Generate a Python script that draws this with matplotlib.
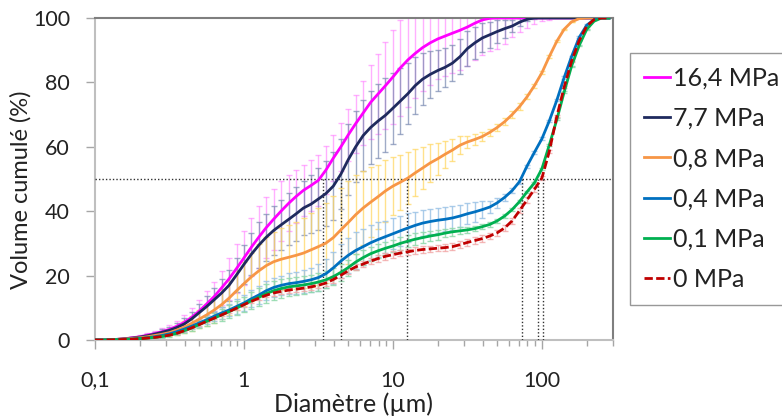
import matplotlib
matplotlib.use("Agg")
import matplotlib.pyplot as plt
import numpy as np
from matplotlib.ticker import FixedLocator, FixedFormatter, LogLocator, NullFormatter

plt.rcParams['font.family'] = ['Lato', 'DejaVu Sans']

# ---------------- data ----------------
diam = [0.1, 0.112, 0.126, 0.141, 0.158, 0.178, 0.2, 0.224, 0.251, 0.282,
        0.316, 0.355, 0.398, 0.447, 0.501, 0.562, 0.631, 0.708, 0.794, 0.891,
        1, 1.12, 1.26, 1.41, 1.58, 1.78, 2.0, 2.24, 2.51, 2.82,
        3.16, 3.55, 3.98, 4.47, 5.01, 5.62, 6.31, 7.08, 7.94, 8.91,
        10, 11.2, 12.6, 14.1, 15.8, 17.8, 20, 22.4, 25.1, 28.2,
        31.6, 35.5, 39.8, 44.7, 50.1, 56.2, 63.1, 70.8, 79.4, 89.1,
        100, 112, 126, 141, 158, 178, 200, 224, 251, 282]

labels = ['16,4 MPa', '7,7 MPa', '0,8 MPa', '0,4 MPa', '0,1 MPa', '0 MPa']

v164 = [0, 0, 0.1, 0.2, 0.4, 0.7, 1.0, 1.5, 2.0, 2.6,
        3.3, 4.3, 5.5, 7.1, 9.0, 11.2, 13.5, 16.2, 19.0, 22.2,
        25.5, 28.8, 32.0, 34.9, 37.5, 40.1, 42.5, 44.6, 46.5, 48.0,
        49.6, 52.8, 56.5, 60.0, 63.7, 67.2, 70.5, 73.8, 76.4, 79.0,
        81.7, 84.5, 87.0, 89.0, 90.8, 92.3, 93.5, 94.4, 95.3, 96.2,
        97.2, 98.4, 99.4, 99.9, 100, 100, 100, 100, 100, 100,
        100, 100, 100, 100, 100, 100, 100, 100, 100, 100]
e164 = [0, 0, 0, 0.1, 0.2, 0.3, 0.4, 0.6, 0.8, 1.0,
        1.3, 1.7, 2.2, 2.8, 3.4, 4.0, 4.6, 5.3, 6.5, 7.5,
        8.5, 9.0, 9.5, 9.5, 9.5, 9.2, 8.8, 8.3, 8.0, 8.0,
        8.0, 7.5, 7.2, 7.5, 8.0, 9.0, 10.0, 11.5, 12.5, 13.5,
        14.5, 15.0, 14.5, 14.0, 13.5, 13.0, 12.5, 12.5, 12.5, 12.3,
        12.0, 11.5, 11.0, 10.3, 9.5, 8.0, 6.0, 4.5, 3.0, 2.0,
        1.0, 0.5, 0, 0, 0, 0, 0, 0, 0, 0]

v77 = [0, 0, 0.1, 0.2, 0.4, 0.6, 0.9, 1.3, 1.8, 2.4,
       3.0, 3.9, 5.0, 6.6, 8.5, 10.4, 12.5, 14.6, 17.0, 20.2,
       23.5, 26.6, 29.5, 31.9, 34.0, 35.8, 37.5, 39.2, 41.0, 42.2,
       43.8, 45.5, 47.8, 51.5, 56.0, 60.0, 63.5, 66.0, 68.0, 69.8,
       72.0, 74.2, 76.5, 79.0, 81.0, 82.5, 83.7, 84.7, 86.0, 88.0,
       90.5, 92.3, 93.8, 94.8, 95.8, 96.7, 97.5, 98.7, 99.6, 100,
       100, 100, 100, 100, 100, 100, 100, 100, 100, 100]
e77 = [0, 0, 0, 0.1, 0.2, 0.3, 0.4, 0.5, 0.7, 0.9,
       1.1, 1.4, 1.8, 2.2, 2.7, 3.2, 3.7, 4.2, 4.8, 5.4,
       6.0, 6.5, 7.0, 7.3, 7.5, 7.8, 8.0, 8.3, 8.5, 9.0,
       9.5, 10.0, 10.5, 10.8, 11.0, 11.0, 11.0, 11.3, 11.5, 11.5,
       11.0, 10.3, 9.5, 8.8, 8.0, 7.2, 6.5, 6.0, 5.5, 5.5,
       5.5, 5.0, 4.5, 4.0, 3.5, 2.8, 2.0, 1.2, 0.5, 0.2,
       0, 0, 0, 0, 0, 0, 0, 0, 0, 0]

v08 = [0, 0, 0.1, 0.2, 0.3, 0.5, 0.7, 1.0, 1.4, 1.8,
       2.3, 3.1, 4.0, 5.2, 6.5, 7.8, 9.3, 11.0, 13.0, 15.3,
       17.5, 19.6, 21.5, 23.1, 24.3, 25.1, 25.7, 26.3, 27.0, 28.0,
       29.0, 30.1, 31.8, 34.2, 36.5, 38.9, 41.0, 42.8, 44.5, 46.3,
       47.8, 49.0, 50.3, 51.9, 53.4, 55.0, 56.3, 57.7, 59.0, 60.5,
       61.5, 62.3, 63.2, 64.5, 66.0, 67.8, 70.0, 72.5, 75.5, 79.0,
       83.0, 88.0, 92.8, 96.5, 98.8, 99.8, 100, 100, 100, 100]
e08 = [0, 0, 0, 0.1, 0.1, 0.2, 0.3, 0.4, 0.6, 0.8,
       1.0, 1.4, 1.8, 2.3, 2.8, 3.3, 3.9, 4.5, 5.2, 6.0,
       6.8, 7.5, 8.2, 8.8, 9.3, 9.7, 10.0, 10.5, 11.0, 11.5,
       12.0, 12.5, 13.0, 13.0, 12.8, 12.3, 11.5, 10.8, 10.0, 9.5,
       9.0, 8.5, 8.0, 7.3, 6.6, 5.8, 5.0, 4.2, 3.5, 2.7,
       2.0, 1.6, 1.3, 1.1, 1.0, 1.0, 1.0, 1.0, 0.8, 0.6,
       0.5, 0.4, 0.3, 0.2, 0.1, 0, 0, 0, 0, 0]

v04 = [0, 0, 0.05, 0.1, 0.2, 0.3, 0.5, 0.7, 1.0, 1.4,
       1.9, 2.6, 3.4, 4.3, 5.3, 6.3, 7.4, 8.4, 9.3, 10.4,
       11.5, 12.8, 14.0, 15.3, 16.3, 17.0, 17.5, 17.8, 18.2, 18.7,
       19.4, 20.6, 22.4, 24.5, 26.3, 27.8, 29.0, 30.2, 31.2, 32.1,
       33.0, 33.9, 34.8, 35.6, 36.3, 36.8, 37.2, 37.5, 37.9, 38.5,
       39.2, 39.8, 40.5, 41.3, 42.6, 44.3, 46.4, 49.2, 54.0, 58.3,
       62.5, 68.0, 74.5, 81.5, 88.0, 94.0, 97.8, 99.5, 100, 100]
e04 = [0, 0, 0, 0, 0.1, 0.1, 0.2, 0.2, 0.3, 0.4,
       0.5, 0.6, 0.8, 1.0, 1.2, 1.4, 1.6, 1.8, 2.0, 2.2,
       2.4, 2.6, 2.8, 3.0, 3.0, 3.0, 3.2, 3.4, 3.6, 3.8,
       4.2, 4.6, 5.0, 5.3, 5.5, 5.6, 5.6, 5.5, 5.3, 5.0,
       4.8, 4.6, 4.5, 4.3, 4.1, 4.0, 3.9, 3.8, 3.7, 3.5,
       3.3, 3.0, 2.6, 2.0, 1.5, 1.1, 0.8, 0.6, 0.5, 0.4,
       0.4, 0.4, 0.4, 0.4, 0.3, 0.3, 0.2, 0.1, 0, 0]

v01 = [0, 0, 0.05, 0.1, 0.15, 0.25, 0.4, 0.6, 0.8, 1.1,
       1.5, 2.1, 2.9, 3.8, 4.8, 5.8, 6.8, 7.8, 8.8, 9.9,
       11.0, 12.2, 13.3, 14.4, 15.3, 16.0, 16.5, 16.8, 17.1, 17.5,
       18.0, 18.7, 19.7, 21.0, 22.5, 24.2, 25.6, 26.8, 27.7, 28.5,
       29.2, 30.0, 30.7, 31.3, 31.8, 32.3, 32.7, 33.2, 33.6, 33.9,
       34.2, 34.6, 35.2, 35.9, 37.0, 38.5, 40.5, 43.0, 46.0, 48.8,
       53.2, 60.5, 68.5, 77.0, 85.0, 91.5, 96.5, 99.0, 100, 100]
e01 = [0, 0, 0, 0, 0.1, 0.1, 0.1, 0.2, 0.3, 0.4,
       0.5, 0.6, 0.8, 1.0, 1.2, 1.4, 1.6, 1.8, 2.0, 2.2,
       2.4, 2.6, 2.8, 3.0, 3.0, 3.0, 2.9, 2.8, 2.7, 2.7,
       2.7, 2.7, 2.7, 2.6, 2.5, 2.4, 2.3, 2.2, 2.1, 2.0,
       2.0, 2.0, 1.9, 1.8, 1.7, 1.6, 1.5, 1.3, 1.2, 1.1,
       1.0, 0.9, 0.8, 0.7, 0.6, 0.5, 0.5, 0.4, 0.4, 0.3,
       0.3, 0.3, 0.3, 0.2, 0.2, 0.1, 0.1, 0, 0, 0]

v0 = [0, 0, 0.05, 0.1, 0.15, 0.25, 0.4, 0.6, 0.8, 1.1,
      1.5, 2.1, 2.9, 3.8, 4.8, 5.8, 6.8, 7.8, 8.8, 9.9,
      11.0, 12.0, 13.0, 13.9, 14.6, 15.1, 15.5, 15.8, 16.1, 16.5,
      17.0, 17.7, 18.8, 20.1, 21.5, 22.7, 23.6, 24.5, 25.3, 26.0,
      26.5, 27.0, 27.4, 27.8, 28.1, 28.3, 28.5, 28.7, 29.0, 29.6,
      30.3, 30.9, 31.5, 32.3, 33.3, 34.8, 37.0, 40.2, 43.5, 46.8,
      50.3, 58.5, 69.5, 78.5, 86.5, 93.0, 97.5, 99.5, 100, 100]
e0 = [0, 0, 0, 0, 0, 0, 0, 0, 0, 0,
      0.1, 0.1, 0.2, 0.2, 0.3, 0.3, 0.4, 0.4, 0.5, 0.5,
      0.6, 0.6, 0.7, 0.7, 0.8, 0.8, 0.8, 0.9, 0.9, 0.9,
      1.0, 1.0, 1.0, 1.0, 1.0, 1.0, 1.0, 1.0, 1.0, 1.0,
      1.0, 1.0, 1.0, 1.0, 1.0, 1.0, 1.0, 1.0, 1.0, 1.0,
      1.0, 1.0, 1.0, 1.0, 1.0, 1.0, 1.0, 0.9, 0.8, 0.7,
      0.6, 0.5, 0.4, 0.3, 0.2, 0.1, 0.1, 0, 0, 0]

# median diameters (D50) marked by dotted lines
d50 = [3.4, 4.45, 12.5, 74, 94, 101]

xtick_vals = [0.1, 1, 10, 100]
xtick_labels = ['0,1', '1', '10', '100']
ytick_vals = [0, 20, 40, 60, 80, 100]

# ---------------- style ----------------
line_colors = ['#ff00ff', '#1f2a5e', '#f79646', '#0070c0', '#00b050', '#c00000']
err_colors = ['#ff70ff', '#7f8fb5', '#ffd866', '#9cc3e6', '#8fd9ab', '#f2a6a6']
err_alpha = [0.55, 0.75, 0.75, 0.85, 0.85, 0.8]

values = [v164, v77, v08, v04, v01, v0]
errors = [e164, e77, e08, e04, e01, e0]

fig = plt.figure(figsize=(7.82, 4.19), dpi=100)
ax = fig.add_axes([95/782, 1-340/419, (613-95)/782, (340-18)/419])

x = np.array(diam)
for vals, errs, ec, ea in zip(values, errors, err_colors, err_alpha):
    v = np.array(vals); e = np.array(errs)
    m = e > 0
    ax.errorbar(x[m], v[m], yerr=e[m], fmt='none', ecolor=ec, alpha=ea,
                elinewidth=1.0, capsize=2.5, capthick=1.0, zorder=2)

# reference lines
ax.axhline(50, color='#303030', lw=1.0, ls=(0, (1, 1.5)), zorder=3)
ax.vlines(d50, 0, 50, colors='#303030', lw=1.0, linestyles=[(0, (1, 1.5))], zorder=3)

for i, (vals, c, lab) in enumerate(zip(values, line_colors, labels)):
    ls = (0, (3, 1.2)) if i == 5 else '-'
    ax.plot(x, vals, color=c, lw=2.0, ls=ls, label=lab, zorder=4 + i)

ax.set_xscale('log')
ax.set_xlim(0.1, 300)
ax.set_ylim(0, 100)
ax.xaxis.set_major_locator(FixedLocator(xtick_vals))
ax.xaxis.set_major_formatter(FixedFormatter(xtick_labels))
ax.xaxis.set_minor_locator(LogLocator(base=10, subs=np.arange(2, 10), numticks=20))
ax.xaxis.set_minor_formatter(NullFormatter())
ax.yaxis.set_major_locator(FixedLocator(ytick_vals))

tick_col = '#a6a6a6'
ax.tick_params(axis='x', which='major', length=6.5, width=1, color=tick_col,
               labelsize=15.5, pad=15.5, labelcolor='#222222')
ax.tick_params(axis='x', which='minor', length=4.5, width=1, color=tick_col)
ax.tick_params(axis='y', which='major', length=6.5, width=1, color=tick_col,
               labelsize=15.5, pad=11.5, labelcolor='#222222')

for s in ['left', 'bottom']:
    ax.spines[s].set_color('#bfbfbf')
    ax.spines[s].set_linewidth(1.5)
for s in ['top', 'right']:
    ax.spines[s].set_color('#7f7f7f')
    ax.spines[s].set_linewidth(1.5)

ax.set_xlabel('Diamètre (µm)', fontsize=18, color='#222222',
              va='center', ha='center')
ax.xaxis.set_label_coords(0.5, (340 - 404) / 322)
ax.set_ylabel('Volume cumulé (%)', fontsize=17, color='#222222',
              va='center', ha='center', rotation_mode='default')
ax.yaxis.set_label_coords((21 - 95) / 518, (340 - 190) / 322)

leg = ax.legend(loc='upper left', bbox_to_anchor=(630/782, 1-53/419),
                bbox_transform=fig.transFigure, fontsize=18, frameon=True,
                fancybox=False, borderaxespad=0, borderpad=0.55,
                handlelength=1.05, handletextpad=0.12, labelspacing=0.69)
leg.get_frame().set_edgecolor('#7f7f7f')
leg.get_frame().set_linewidth(1.0)
for t in leg.get_texts():
    t.set_color('#222222')

fig.savefig('out.png', dpi=100)
